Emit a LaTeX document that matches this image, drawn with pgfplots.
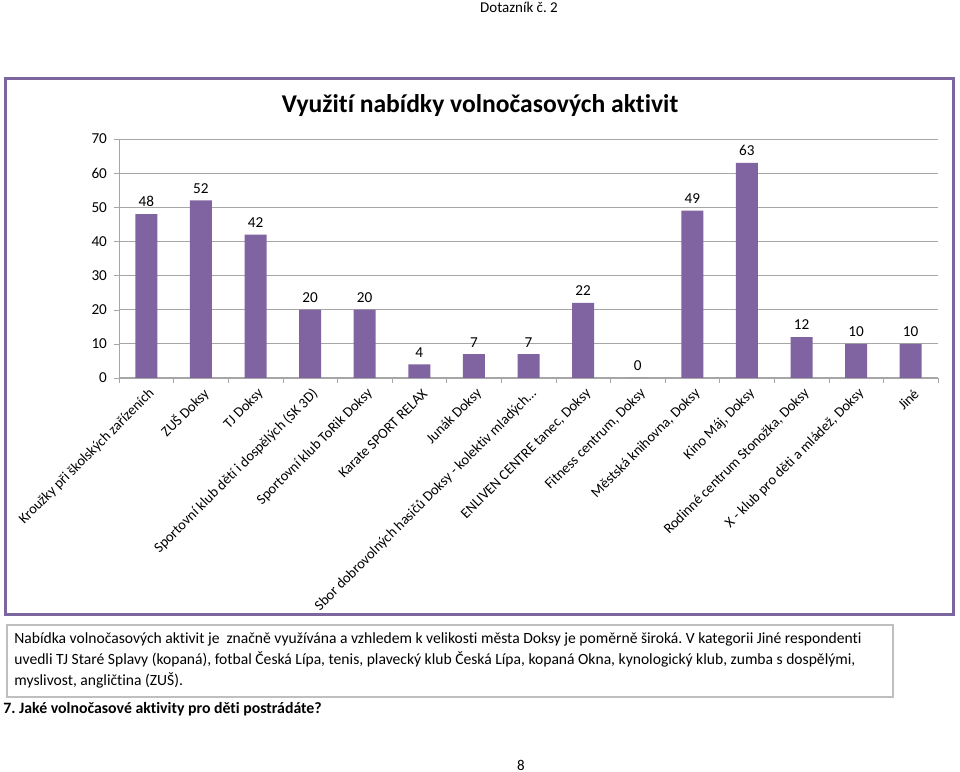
\documentclass[border=0pt]{standalone}
\usepackage{fontspec}
\setmainfont{Carlito}[Ligatures=NoCommon]
\usepackage{pgfplots}
\pgfplotsset{compat=1.18}
\definecolor{barpurple}{HTML}{8064A2}
\definecolor{framepurple}{HTML}{7B66A0}
\definecolor{gridgray}{HTML}{A6A6A6}
\frenchspacing
\begin{document}
\begin{tikzpicture}[x=0.5pt,y=0.5pt]
\path[use as bounding box, fill=white] (0,0) rectangle (960,772);
\node[font=\fontsize{7.5}{8}\selectfont] at (519,765) {Dotazník č. 2};
\draw[framepurple, line width=1.5pt] (5,693) rectangle (953,157);
\node[font=\bfseries\fontsize{12.8}{14}\selectfont] at (480,666) {Využití nabídky volnočasových aktivit};
\begin{axis}[
  at={(59.5pt,197pt)}, anchor=south west,
  width=409.5pt, height=119.5pt, scale only axis,
  xmin=-0.5, xmax=14.5, ymin=0, ymax=70,
  ytick={0,10,...,70},
  xtick={0,...,14},
  minor xtick={-0.5,0.5,...,14.5},
  xticklabels={Kroužky při školských zařízeních, ZUŠ Doksy, TJ Doksy, Sportovní klub dětí i dospělých (SK 3D), Sportovní klub ToRik Doksy, Karate SPORT RELAX, Junák Doksy, Sbor dobrovolných hasičů Doksy - kolektiv mladých…, {ENLIVEN CENTRE tanec, Doksy}, {Fitness centrum, Doksy}, {Městská knihovna, Doksy}, {Kino Máj, Doksy}, {Rodinné centrum Stonožka, Doksy}, {X - klub pro děti a mládež, Doksy}, Jiné},
  xticklabel style={rotate=45, anchor=east, font=\fontsize{7.2}{8}\selectfont, xshift=2.5pt, yshift=-5pt},
  yticklabel style={font=\fontsize{7.6}{8}\selectfont, /pgf/number format/assume math mode=true},
  axis x line*=bottom, axis y line*=left,
  axis line style={gridgray, -},
  tick style={gridgray},
  major x tick style={draw=none},
  tick align=outside,
  major tick length=2.5pt, minor tick length=2.5pt,
  ymajorgrids, grid style={gridgray, line width=0.5pt},
  ybar, bar width=11pt,
  nodes near coords,
  every node near coord/.append style={font=\fontsize{7.6}{8}\selectfont, black, /pgf/number format/assume math mode=true},
  clip=false,
]
\addplot[fill=barpurple, draw=none] coordinates {
(0,48) (1,52) (2,42) (3,20) (4,20) (5,4) (6,7) (7,7) (8,22) (9,0) (10,49) (11,63) (12,12) (13,10) (14,10)};
\end{axis}
\draw[black!25, line width=0.6pt] (7,147) rectangle (893,75);
\begin{scope}[every node/.style={anchor=base west, inner sep=0pt, font=\fontsize{7.8}{8}\selectfont}]
\node at (14,128) {Nabídka volnočasových aktivit je~~značně využívána a vzhledem k velikosti města Doksy je poměrně široká. V kategorii Jiné respondenti};
\node at (14,107) {uvedli TJ Staré Splavy (kopaná), fotbal Česká Lípa, tenis, plavecký klub Česká Lípa, kopaná Okna, kynologický klub, zumba s dospělými,};
\node at (14,86) {myslivost, angličtina (ZUŠ).};
\node[font=\bfseries\fontsize{7.9}{8}\selectfont] at (3,58) {7. Jaké volnočasové aktivity pro děti postrádáte?};
\end{scope}
\node[font=\fontsize{7.5}{8}\selectfont] at (521,7) {8};
\end{tikzpicture}
\end{document}
